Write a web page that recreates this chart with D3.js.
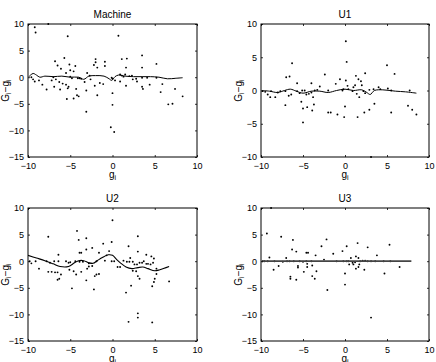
<!DOCTYPE html>
<html>
<head>
<meta charset="utf-8">
<script src="https://cdn.jsdelivr.net/npm/d3@7/dist/d3.min.js"></script>
<style>
  html, body { margin: 0; padding: 0; background: #fff; }
  svg { display: block; }
</style>
</head>
<body>
<div id="chart"></div>
<script>
(function () {
  'use strict';

  // ── Data ──
  var panelTitles = ['Machine', 'U1', 'U2', 'U3'];
  var xTicks = [-10, -5, 0, 5, 10];
  var yTicksMachine = [-15, -10, -5, 0, 5, 10];
  var yTicksU1 = [-10, -5, 0, 5, 10];
  var yTicksU2 = [-15, -10, -5, 0, 5, 10];
  var yTicksU3 = [-15, -10, -5, 0, 5, 10];

  var machineDots = [
    [-9.2, 9.4], [-9.1, 8.4], [-7.6, 10], [-5.3, 7.7], [0.7, 7.8],
    [-6.8, 3.0], [-5.7, 3.6], [-6.5, 2.2], [-5.1, 2.4], [-6.1, 1.6], [-5.0, 1.3],
    [-4.4, 2.1], [-4.6, 1.1], [-5.5, 0.8], [-2.0, 2.8], [-2.0, 3.4], [-0.9, 2.9],
    [-0.9, 2.1], [-2.2, 2.3], [-1.8, 1.8], [1.1, 3.4], [1.7, 3.5], [1.6, 1.8],
    [3.5, 4.1], [3.5, 1.8], [5.2, 2.5], [-3.9, -0.2], [-3.0, 0.8], [-2.7, 0.3],
    [-9.6, 0], [-9.4, -0.4], [-9.2, -0.8], [-8.7, -0.6], [-8.3, -1.4], [-7.2, -0.6],
    [-7.0, 0], [-6.7, -0.4], [-6.3, -0.9], [-5.9, -1.2], [-5.5, -1.4], [-5.2, -1.8],
    [-5.0, 0.1], [-4.8, -0.2], [-4.1, -0.2], [-3.7, -0.3], [-3.3, -0.9], [-2.6, -0.4],
    [-2.1, -1.6], [-1.5, -1.1], [-1.1, -1.3], [-0.1, -0.1], [0, -0.3], [0.3, -0.6],
    [0.9, 0.5], [1.1, 0.3], [1.3, 0.1], [1.6, -1.6], [2.0, 0.2], [2.4, -0.4],
    [2.8, -0.3], [2.9, -0.8], [3.5, -0.1], [4.1, -0.1], [4.4, -1.4], [5.2, -0.1],
    [5.9, -1.3], [-5.3, -2.1], [-6.2, -2.3], [-7.8, -2.3], [-5.4, -4.1], [-4.6, -4.0],
    [-4.2, -3.4], [-4.0, -3.6], [-1.8, -3.4], [-3.1, -6.5], [0, -3.0], [0, -5.2],
    [-0.2, -9.4], [0.2, -10.3], [3.5, -1.8], [3.6, -2.2], [5.7, -2.8], [6.6, -5.1],
    [7.1, -5.0], [7.4, -2.2], [8.3, -3.6], [-3.1, -2.5], [-6.9, -1.8], [-4.3, -2.2],
    [0.9, -0.8], [2.3, 0.3], [1.5, 0.5]
  ];
  var machineCurve = [
    [-9.9, 0.1], [-9.4, 0.7], [-9.0, 0.4], [-8.6, 0.0], [-8.0, 0.2], [-7.0, 0.1],
    [-6.0, 0.2], [-5.0, 0.0], [-4.0, 0.0], [-3.4, -0.4], [-2.8, 0.2], [-2.0, 0.3],
    [-1.0, 0.2], [-0.4, -0.3], [-0.1, -0.6], [0.3, 0.1], [0.7, 0.4], [1.5, 0.2],
    [2.5, 0.1], [3.5, 0.1], [4.5, 0.1], [5.5, 0.0], [6.5, -0.3], [7.5, -0.2], [8.3, -0.1]
  ];

  var u1Dots = [
    [0.1, 7.4], [0.2, 4.3], [-6.3, 4.1], [5.0, 3.8], [5.9, 2.5], [-2.4, 2.4],
    [2.4, 2.6], [-7.0, 2.0], [-6.6, 2.1], [-5.7, 1.1], [-4.0, 1.1], [-0.6, 1.7],
    [0.1, 1.5], [1.3, 2.2], [1.9, 1.4], [2.0, 0.8], [1.0, 0.5], [1.2, 0.8],
    [0.3, 0.7], [-1.1, 1.0], [1.6, 1.7],
    [-9.8, -0.1], [-9.5, -0.2], [-9.2, -0.6], [-8.9, -1.0], [-8.8, -0.1], [-8.3, -1.0],
    [-8.0, -0.3], [-7.7, -0.1], [-7.1, -0.1], [-6.7, -0.8], [-6.4, -0.6], [-5.7, -0.1],
    [-5.4, -0.4], [-5.1, 0], [-4.8, 0], [-4.6, -0.6], [-4.3, -0.5], [-4.0, -0.3],
    [-3.8, -1.0], [-3.6, 0], [-3.3, 0.1], [-3.0, 0.6], [-2.0, 0], [-0.3, 0],
    [-0.2, 0.2], [0.4, 0.2], [0.9, -0.1], [1.4, -0.5], [1.7, -1.0], [2.2, -0.1],
    [2.4, -0.4], [2.9, 0.1], [3.4, 0.2], [4.0, 0.5], [4.2, 0.2], [5.1, 0.3],
    [5.5, 0], [7.7, 0],
    [-7.1, -2.2], [-5.2, -1.7], [-5.0, -2.7], [-4.5, -2.5], [-5.0, -4.8], [-3.9, -3.0],
    [-3.7, -2.1], [-2.0, -3.3], [-1.7, -3.3], [-0.9, -3.6], [0, -2.4], [-0.1, -4.0],
    [1.5, -4.0], [2.3, -3.3], [2.9, -2.9], [3.5, -2.0], [5.5, -3.3], [7.5, -2.3],
    [8.0, -2.9], [8.5, -3.6], [3.1, -10]
  ];
  var u1Curve = [
    [-9.9, 0.0], [-9.0, -0.1], [-8.0, -0.3], [-7.2, 0.0], [-6.5, 0.2], [-5.8, -0.1],
    [-5.0, -0.4], [-4.0, -0.1], [-3.0, -0.1], [-2.0, -0.3], [-1.0, 0.0], [0.0, 0.2],
    [1.0, 0.0], [2.0, 0.1], [2.6, -0.3], [3.0, -0.6], [3.5, 0.0], [4.5, 0.1],
    [6.0, -0.1], [7.2, -0.2], [8.5, -0.4]
  ];

  var u2Dots = [
    [0, 7.7], [-4.2, 5.7], [-7.6, 4.6], [3.0, 4.7], [-3.1, 4.3], [-4.0, 4.0],
    [-0.1, 3.6], [-1.1, 3.3], [1.9, 2.8], [-2.4, 2.5], [-3.1, 2.2], [3.0, 1.8],
    [-3.9, 1.6], [-3.7, 1.6], [-1.6, 1.6], [-6.4, 1.2], [4.0, 1.2], [4.6, 0.9],
    [4.9, 0.5], [-0.7, 1.1], [-0.4, 1.9], [2.1, 0.6],
    [-9.8, 0], [-9.6, -0.4], [-9.1, 0], [-7.8, 0], [-7.4, -0.3], [-6.9, 0],
    [-6.4, 0], [-5.5, 0], [-5.2, -0.3], [-5.0, -0.2], [-4.4, 0], [-3.9, -0.1],
    [-3.5, -0.1], [-2.8, -0.4], [-1.9, 0], [-0.9, 0.1], [-0.1, 0], [0.2, 0],
    [1.3, 0.1], [1.7, -0.1], [2.0, -0.1], [2.4, -0.1], [2.6, -0.6], [2.9, -0.6],
    [3.2, -0.3], [3.5, -0.3], [3.7, 0], [4.0, -0.5], [4.2, -0.5], [4.5, -0.6],
    [4.8, -0.3], [5.2, -1.4],
    [-8.7, -1.4], [-7.6, -2.0], [-7.2, -2.0], [-6.8, -2.1], [-6.5, -2.1], [-6.1, -2.5],
    [-6.3, -3.3], [-6.5, -3.5], [-5.1, -1.6], [-4.6, -1.9], [-4.3, -2.5], [-3.7, -2.0],
    [-3.1, -3.6], [-3.0, -1.4], [-2.8, -1.0], [-2.4, -0.9], [-2.1, -2.8], [-1.9, -2.5],
    [-1.6, -2.4], [-2.2, -5.3], [-4.8, -5.1], [0.9, -1.1], [1.6, -5.9], [2.2, -4.6],
    [1.9, -11.4], [3.0, -9.8], [3.0, -10.6], [3.0, -2.8], [3.2, -3.3], [2.8, -1.9],
    [4.7, -11.5], [4.7, -4.7], [4.9, -3.9], [5.0, -3.3], [5.2, -2.4], [6.7, -3.8],
    [0.6, -1.1], [2.4, -1.8]
  ];
  var u2Curve = [
    [-10, 1.1], [-9, 0.6], [-8, 0.1], [-7, -0.5], [-6.2, -1.0], [-5.2, -1.0],
    [-4.5, -0.3], [-4.0, 0.1], [-3.4, 0.1], [-2.8, -0.3], [-2.3, -0.4], [-1.8, 0.1],
    [-1.2, 0.7], [-0.5, 1.2], [0, 1.1], [0.5, 0.3], [1.0, -0.4], [1.6, -1.1],
    [2.3, -1.4], [3.0, -1.2], [3.6, -1.1], [4.2, -1.4], [5.0, -1.8], [5.6, -1.6],
    [6.7, -1.0]
  ];

  var u3Dots = [
    [-9.3, 5.2], [-8.8, 10], [-7.6, 4.6], [-6.2, 4.0], [-6.3, 2.2], [-5.8, 1.8],
    [-4.6, 1.6], [-4.4, 1.6], [-3.5, 1.1], [-2.8, 2.8], [-2.2, 4.1], [-1.4, 1.4],
    [-0.3, 1.9], [0.2, 2.8], [1.5, 3.4], [2.7, 2.6], [5.3, 3.1], [3.8, 1.1],
    [1.3, 0.9], [1.6, 0.6], [0.7, 0.6], [-2.5, 0.3], [-9.0, 0.7], [-7.0, 0.6],
    [-9.8, 0], [-9.6, 0], [-9.2, 0], [-8.4, 0], [-7.4, -0.1], [-6.9, 0],
    [-6.6, 0], [-6.1, 0], [-5.4, 0], [-4.6, 0], [-4.0, 0], [-1.0, 0],
    [-0.2, 0], [0.2, 0], [0.4, 0], [0.9, -0.3], [1.2, -0.2], [1.8, 0],
    [2.1, 0.1], [2.4, 0.1], [2.7, 0], [3.1, 0], [3.6, 0], [4.6, 0], [5.4, 0],
    [-8.5, -1.6], [-7.9, -0.9], [-5.6, -0.9], [-5.6, -1.2], [-5.0, -0.1], [-6.5, -2.9],
    [-6.5, -3.3], [-5.8, -3.5], [-4.9, -2.0], [-4.5, -0.5], [-4.5, -1.1], [-3.9, -0.8],
    [-3.9, -2.8], [-3.6, -3.3], [-3.4, -1.9], [-2.1, -5.4], [0, -2.3], [0, -4.4],
    [1.3, -1.4], [1.6, -1.1], [2.3, -1.6], [3.1, -10.6], [4.7, -2.3], [6.5, -1.1],
    [0.5, -0.6], [1.0, -0.6], [1.7, -0.6]
  ];
  var u3Curve = [[-9.9, 0], [7.9, 0]];

  // ── Layout ──
  var WIDTH = 436;
  var HEIGHT = 362;
  var FONT = 'Liberation Sans, Arial, Helvetica, sans-serif';
  var TICK_FONT_SIZE = '9px';
  var LABEL_FONT_SIZE = '10px';
  var TICK_LEN = 2;
  var PANELS = [
    { x0: 28, x1: 197, y0: 24, y1: 157 },
    { x0: 261, x1: 429, y0: 24, y1: 157 },
    { x0: 28, x1: 197, y0: 208, y1: 341 },
    { x0: 261, x1: 429, y0: 208, y1: 341 }
  ];

  var panelData = [
    { dots: machineDots, curve: machineCurve, yTicks: yTicksMachine, yDomain: [-15, 10], lineColor: '#000', lineWidth: 1 },
    { dots: u1Dots, curve: u1Curve, yTicks: yTicksU1, yDomain: [-10, 10], lineColor: '#000', lineWidth: 1 },
    { dots: u2Dots, curve: u2Curve, yTicks: yTicksU2, yDomain: [-15, 10], lineColor: '#000', lineWidth: 1.1 },
    { dots: u3Dots, curve: u3Curve, yTicks: yTicksU3, yDomain: [-15, 10], lineColor: '#444', lineWidth: 1.8 }
  ];

  function fmt(v) {
    return v < 0 ? '\u2212' + Math.abs(v) : String(v);
  }

  // text with a subscript "i" after the given pieces
  function subText(sel, parts) {
    parts.forEach(function (p) {
      sel.append('tspan')
        .attr('baseline-shift', p.sub ? '-30%' : null)
        .attr('font-size', p.sub ? '7px' : null)
        .text(p.t);
    });
  }

  var svg = d3.select('#chart')
    .append('svg')
    .attr('width', WIDTH)
    .attr('height', HEIGHT);

  // ── One panel ──
  function drawPanel(box, d, title) {
    var x = d3.scaleLinear().domain([-10, 10]).range([box.x0, box.x1]);
    var y = d3.scaleLinear().domain(d.yDomain).range([box.y1, box.y0]);
    var g = svg.append('g');

    // clip so the curve and dots stay inside the box
    var clipId = 'clip-' + title;
    g.append('clipPath').attr('id', clipId)
      .append('rect')
      .attr('x', box.x0).attr('y', box.y0 - 1)
      .attr('width', box.x1 - box.x0).attr('height', box.y1 - box.y0 + 2);

    var plot = g.append('g').attr('clip-path', 'url(#' + clipId + ')');

    // dots
    plot.selectAll('.dot')
      .data(d.dots)
      .join('circle')
      .attr('class', 'dot')
      .attr('cx', function (p) { return x(p[0]); })
      .attr('cy', function (p) { return y(p[1]); })
      .attr('r', 0.95)
      .attr('fill', '#000');

    // smoothed curve
    var line = d3.line()
      .x(function (p) { return x(p[0]); })
      .y(function (p) { return y(p[1]); })
      .curve(d3.curveCatmullRom.alpha(0.5));

    plot.append('path')
      .datum(d.curve)
      .attr('d', line)
      .attr('fill', 'none')
      .attr('stroke', d.lineColor)
      .attr('stroke-width', d.lineWidth);

    // axes: bottom/left with labels, top/right ticks only (inward)
    var axB = g.append('g').attr('transform', 'translate(0,' + box.y1 + ')')
      .call(d3.axisBottom(x).tickValues(xTicks).tickSize(-TICK_LEN).tickPadding(4).tickFormat(fmt));
    var axT = g.append('g').attr('transform', 'translate(0,' + box.y0 + ')')
      .call(d3.axisTop(x).tickValues(xTicks).tickSize(-TICK_LEN).tickFormat(''));
    var axL = g.append('g').attr('transform', 'translate(' + box.x0 + ',0)')
      .call(d3.axisLeft(y).tickValues(d.yTicks).tickSize(-TICK_LEN).tickPadding(4).tickFormat(fmt));
    var axR = g.append('g').attr('transform', 'translate(' + box.x1 + ',0)')
      .call(d3.axisRight(y).tickValues(d.yTicks).tickSize(-TICK_LEN).tickFormat(''));

    [axB, axT, axL, axR].forEach(function (ax) {
      ax.select('.domain').remove();
      ax.selectAll('.tick line').attr('stroke', '#000').attr('stroke-width', 0.8);
      ax.selectAll('.tick text')
        .attr('fill', '#000')
        .attr('font-family', FONT)
        .attr('font-size', TICK_FONT_SIZE);
    });
    axB.selectAll('.tick text').attr('dy', '0.85em');

    // box frame
    g.append('rect')
      .attr('x', box.x0).attr('y', box.y0)
      .attr('width', box.x1 - box.x0).attr('height', box.y1 - box.y0)
      .attr('fill', 'none')
      .attr('stroke', '#000')
      .attr('stroke-width', 1);

    // title
    g.append('text')
      .attr('x', (box.x0 + box.x1) / 2)
      .attr('y', box.y0 - 6)
      .attr('text-anchor', 'middle')
      .attr('font-family', FONT)
      .attr('font-size', LABEL_FONT_SIZE)
      .text(title);

    // x label
    var xl = g.append('text')
      .attr('x', (box.x0 + box.x1) / 2)
      .attr('y', box.y1 + 21)
      .attr('text-anchor', 'middle')
      .attr('font-family', FONT)
      .attr('font-size', LABEL_FONT_SIZE);
    subText(xl, [{ t: 'g' }, { t: 'i', sub: true }]);

    // y label
    var cy = (box.y0 + box.y1) / 2;
    var yl = g.append('text')
      .attr('transform', 'translate(' + (box.x0 - 19) + ',' + cy + ') rotate(-90)')
      .attr('text-anchor', 'middle')
      .attr('font-family', FONT)
      .attr('font-size', LABEL_FONT_SIZE);
    subText(yl, [{ t: 'G' }, { t: 'i', sub: true }, { t: '\u2212g' }, { t: 'i', sub: true }]);
  }

  PANELS.forEach(function (box, i) {
    drawPanel(box, panelData[i], panelTitles[i]);
  });
})();
</script>
</body>
</html>
